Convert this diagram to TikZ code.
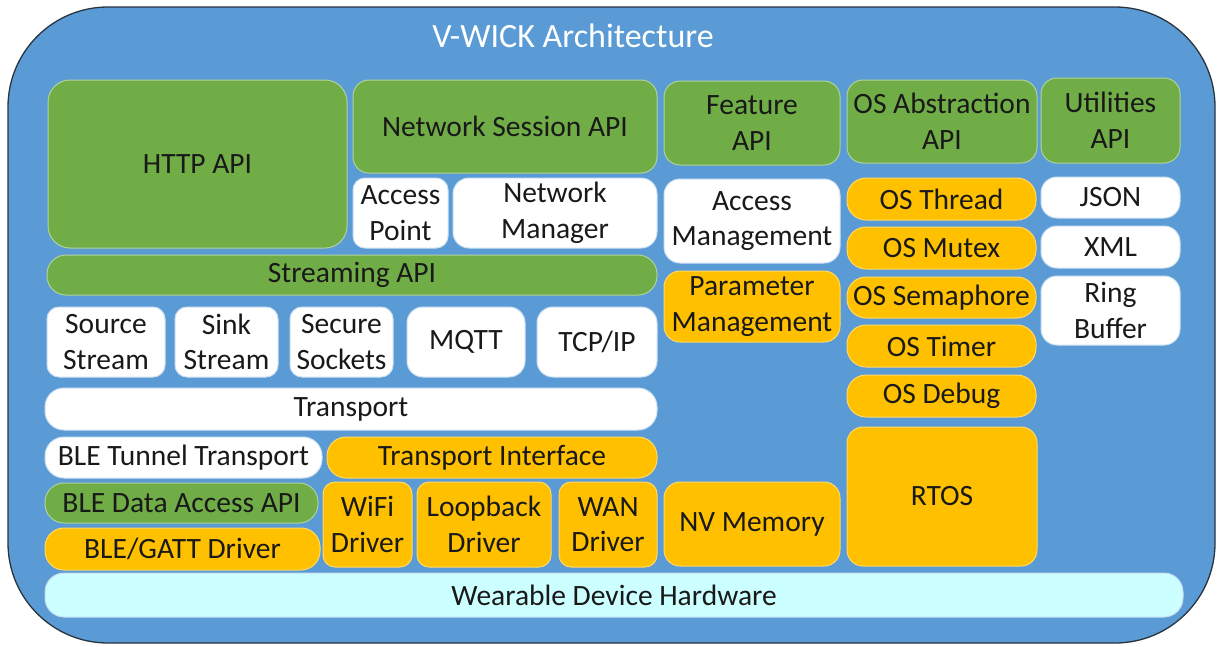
\documentclass[tikz,border=0pt]{standalone}
\usepackage{fontspec}
\setmainfont{Carlito}

\definecolor{wickblue}{HTML}{5B9BD5}
\definecolor{wickgreen}{HTML}{70AD47}
\definecolor{wickorange}{HTML}{FFC000}
\definecolor{wickcyan}{HTML}{CCFFFF}
\definecolor{wickline}{HTML}{2A3440}

\begin{document}
\begin{tikzpicture}[x=1pt,y=-1pt,
  blk/.style={rounded corners=16pt, inner sep=0pt, align=center, line width=1pt,
    text=black!90, font=\fontsize{29.5}{35.5}\selectfont},
  api/.style={blk, fill=wickgreen, draw=wickgreen!55!white},
  mod/.style={blk, fill=white, draw=wickblue!30!white},
  drv/.style={blk, fill=wickorange, draw=wickorange!60!white},
  hwbox/.style={blk, fill=wickcyan, draw=wickblue!35!white},
  pill/.style={rounded corners=19pt}]
\useasboundingbox (0,0) rectangle (1217,646);
\fill[white] (0,0) rectangle (1217,646);
% outer frame and title
\node[draw=wickline, fill=wickblue, line width=1.3pt, rounded corners=100pt,
  minimum width=1207pt, minimum height=636pt] (frame) at (611.5,325) {};
\node[text=white, font=\fontsize{34}{40}\selectfont] (title) at (573,36) {V-WICK Architecture};
% networking column
\node[api, rounded corners=22pt, minimum width=299pt, minimum height=168pt] (http) at (197.5,164) {HTTP API};
\node[api, minimum width=304pt, minimum height=93pt] (netsess) at (505,126.5) {Network Session API};
\node[mod, rounded corners=12pt, minimum width=95pt, minimum height=70pt] (ap) at (400.5,213) {Access\\Point};
\node[mod, minimum width=204pt, minimum height=70pt] (netmgr) at (555,213) {Network\\Manager};
\node[api, pill, minimum width=610pt, minimum height=40pt] (stream) at (352,275) {Streaming API};
\node[mod, rounded corners=12pt, minimum width=118pt, minimum height=70pt] (srcst) at (106,342) {Source\\Stream};
\node[mod, rounded corners=12pt, minimum width=103pt, minimum height=70pt] (sinkst) at (226.5,342) {Sink\\Stream};
\node[mod, rounded corners=12pt, minimum width=103pt, minimum height=70pt] (secsock) at (341.5,342) {Secure\\Sockets};
\node[mod, minimum width=118pt, minimum height=70pt] (mqtt) at (466,342) {MQTT};
\node[mod, minimum width=120pt, minimum height=70pt] (tcpip) at (597,342) {TCP/IP};
\node[mod, pill, minimum width=612pt, minimum height=42pt] (transport) at (351,409) {Transport};
\node[mod, pill, minimum width=277pt, minimum height=41pt] (bletun) at (183.5,457.5) {BLE Tunnel Transport};
\node[drv, pill, minimum width=330pt, minimum height=41pt] (tif) at (492,457.5) {Transport Interface};
\node[api, pill, minimum width=273pt, minimum height=40pt] (bleda) at (181.5,503) {BLE Data Access API};
\node[drv, pill, minimum width=275pt, minimum height=42pt] (gatt) at (182.5,549) {BLE/GATT Driver};
\node[drv, rounded corners=12pt, minimum width=89pt, minimum height=85pt] (wifi) at (367.5,524.5) {WiFi\\Driver};
\node[drv, rounded corners=12pt, minimum width=134pt, minimum height=85pt] (loop) at (484,524.5) {Loopback\\Driver};
\node[drv, rounded corners=12pt, minimum width=98pt, minimum height=85pt] (wan) at (608,524.5) {WAN\\Driver};
% feature column
\node[api, minimum width=176pt, minimum height=84pt] (featapi) at (752,123) {Feature\\API};
\node[mod, minimum width=176pt, minimum height=84pt] (accmgmt) at (752,221) {Access\\Management};
\node[drv, minimum width=176pt, minimum height=71pt] (parmgmt) at (752,306.5) {Parameter\\Management};
\node[drv, minimum width=176pt, minimum height=84pt] (nvmem) at (752,524) {NV Memory};
% OS column
\node[api, minimum width=190pt, minimum height=83pt] (osapi) at (942,121.5) {OS Abstraction\\API};
\node[drv, pill, minimum width=189pt, minimum height=42pt] (osthread) at (941.5,199) {OS Thread};
\node[drv, pill, minimum width=189pt, minimum height=42pt] (osmutex) at (941.5,248) {OS Mutex};
\node[drv, pill, minimum width=189pt, minimum height=41pt] (ossem) at (941.5,297.5) {OS Semaphore};
\node[drv, pill, minimum width=189pt, minimum height=42pt] (ostimer) at (941.5,346) {OS Timer};
\node[drv, pill, minimum width=189pt, minimum height=42pt] (osdebug) at (941.5,396) {OS Debug};
\node[drv, minimum width=190pt, minimum height=139pt] (rtos) at (942,496.5) {RTOS};
% utilities column
\node[api, minimum width=139pt, minimum height=85pt] (utilapi) at (1110.5,120.5) {Utilities\\API};
\node[mod, minimum width=139pt, minimum height=41pt] (json) at (1110.5,197.5) {JSON};
\node[mod, minimum width=139pt, minimum height=42pt] (xml) at (1110.5,247) {XML};
\node[mod, minimum width=139pt, minimum height=69pt] (ring) at (1110.5,310.5) {Ring\\Buffer};
% hardware
\node[hwbox, pill, minimum width=1138pt, minimum height=44pt] (hw) at (614,595) {Wearable Device Hardware};
\end{tikzpicture}
\end{document}
